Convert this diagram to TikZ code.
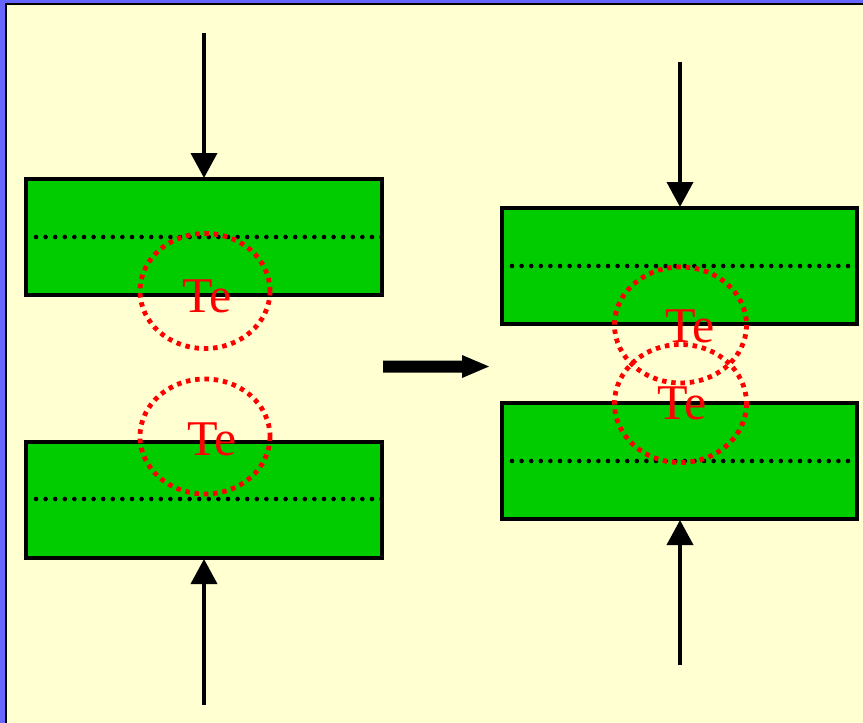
\documentclass[tikz,border=0pt]{standalone}
\usepackage{fontspec}
\setmainfont{Liberation Serif}
\usetikzlibrary{arrows.meta}
\definecolor{bgyellow}{HTML}{FFFFD2}
\definecolor{frameblue}{HTML}{6666FF}
\definecolor{boxgreen}{HTML}{00CC00}
\definecolor{tered}{HTML}{FF0000}
\begin{document}
\begin{tikzpicture}[x=1pt,y=-1pt,
  layer/.style={draw=black,line width=4.2pt,fill=boxgreen},
  midline/.style={line width=4.6pt,line cap=round,dash pattern=on 0pt off 9.6pt},
  atom/.style={draw=tered,line width=4.8pt,dash pattern=on 4.5pt off 4.8pt},
  telabel/.style={text=tered,font=\fontsize{50}{50}\selectfont,inner sep=0pt,anchor=base},
  pressarrow/.style={line width=3.8pt,-{Triangle[length=25pt,width=26pt]}}]
\useasboundingbox (0,0) rectangle (863,723);
% frame
\fill[frameblue] (0,0) rectangle (863,723);
\fill[black] (5,3) rectangle (863,723);
\fill[bgyellow] (7,5) rectangle (863,723);
% left layers
\draw[layer] (26,179) rectangle (382,295);
\draw[layer] (26,442) rectangle (382,558);
\coordinate (l1a) at (36,237); \coordinate (l1b) at (382,237);
\coordinate (l2a) at (36,499); \coordinate (l2b) at (382,499);
\draw[midline] (l1a) -- (l1b);
\draw[midline] (l2a) -- (l2b);
% right layers
\draw[layer] (502,208) rectangle (857,324);
\draw[layer] (502,403) rectangle (857,519);
\coordinate (r1a) at (512,266); \coordinate (r1b) at (857,266);
\coordinate (r2a) at (512,461); \coordinate (r2b) at (857,461);
\draw[midline] (r1a) -- (r1b);
\draw[midline] (r2a) -- (r2b);
% atoms left
\draw[atom] (205,291) ellipse [x radius=65, y radius=57.5];
\draw[atom] (205,436.5) ellipse [x radius=65, y radius=57.5];
\node[telabel] (te1) at (207.5,312) {Te};
\node[telabel] (te2) at (212,455) {Te};
% atoms right
\draw[atom] (680.5,325) ellipse [x radius=66, y radius=58];
\draw[atom] (680.5,403.5) ellipse [x radius=66, y radius=59];
\node[telabel] (te3) at (690,342) {Te};
\node[telabel] (te4) at (682,419) {Te};
% pressure arrows
\coordinate (a1s) at (204,33);  \coordinate (a1e) at (204,178);
\coordinate (a2s) at (204,705); \coordinate (a2e) at (204,559);
\coordinate (a3s) at (680,62);  \coordinate (a3e) at (680,207);
\coordinate (a4s) at (680,665); \coordinate (a4e) at (680,520);
\draw[pressarrow] (a1s) -- (a1e);
\draw[pressarrow] (a2s) -- (a2e);
\draw[pressarrow] (a3s) -- (a3e);
\draw[pressarrow] (a4s) -- (a4e);
% middle thick arrow
\fill[black] (383,360.5) -- (462,360.5) -- (462,355) -- (489,366.5) -- (462,378) -- (462,372.5) -- (383,372.5) -- cycle;
\end{tikzpicture}
\end{document}
